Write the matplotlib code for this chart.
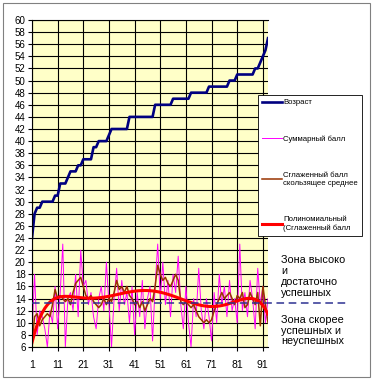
"""
Возраст и баллы: линейный график в стиле Excel.
"""

import numpy as np
import matplotlib.pyplot as plt
from matplotlib.patches import Rectangle

plt.rcParams['font.family'] = ['Liberation Sans', 'DejaVu Sans']

# Data
age = [24, 28, 29, 29, 30, 30, 30, 30, 30, 31, 31, 33, 33, 33, 34, 35, 35, 35,
       36, 36, 37, 37, 37, 37, 39, 39, 40, 40, 40, 40, 41, 42, 42, 42, 42, 42,
       42, 42, 44, 44, 44, 44, 44, 44, 44, 44, 44, 44, 46, 46, 46, 46, 46, 46,
       46, 47, 47, 47, 47, 47, 47, 47, 48, 48, 48, 48, 48, 48, 48, 49, 49, 49,
       49, 49, 49, 49, 49, 50, 50, 50, 51, 51, 51, 51, 51, 51, 51, 52, 52, 53,
       54, 55, 57]

total_score = [8, 18, 8, 12, 11, 9, 6, 12, 10, 16, 9, 15, 23, 6, 14, 15, 12, 18,
               11, 22, 16, 17, 13, 15, 11, 9, 14, 16, 12, 20, 13, 6, 14, 19, 12,
               17, 13, 15, 10, 16, 8, 15, 11, 17, 9, 14, 16, 7, 16, 23, 14, 20,
               13, 17, 11, 18, 15, 21, 13, 9, 16, 10, 6, 14, 11, 19, 12, 9, 14,
               11, 7, 15, 10, 18, 13, 16, 11, 17, 12, 14, 10, 23, 12, 15, 11, 17,
               14, 9, 19, 13, 16, 10, 14]

smoothed_score = [6.5, 11, 11.5, 9.5, 10.5, 11, 11.5, 11, 13, 15.5, 14, 14.5, 14,
                  13.5, 14, 13, 15, 16.5, 17, 17.5, 16, 14.5, 14, 14.5, 13.5, 13,
                  12.5, 13, 14, 13, 14, 13.5, 15, 17, 15.5, 16, 15, 16, 14.5, 14,
                  13, 13.5, 12.5, 13.5, 12, 13, 14, 13.5, 16, 19.5, 18, 17, 17.5,
                  16.5, 16, 17, 18, 17, 13.5, 13, 13.5, 13, 12.5, 13, 12, 11, 10.5,
                  10, 10.5, 10, 10.5, 12, 13, 14, 15, 14, 14.5, 15, 14, 13, 14.5,
                  14, 15, 12.5, 13, 15, 14, 13, 15, 9.5, 16, 13, 10]

threshold = 13.2

labels = ["Возраст", "Суммарный балл", "Сглаженный балл\nскользящее среднее",
          "Полиномиальный\n(Сглаженный балл"]

x = np.arange(1, len(age) + 1)

# Excel-style polynomial trendline of the smoothed series
trend = np.polynomial.Polynomial.fit(x, smoothed_score, 6)(x)

W, H = 373, 384
fig = plt.figure(figsize=(W / 100, H / 100), dpi=100)
fig.patches.append(Rectangle((3 / W, 7 / H), 367 / W, 374 / H,
                             transform=fig.transFigure, fill=False,
                             edgecolor="#808080", lw=0.8))

ax = fig.add_axes([32 / W, 37 / H, 236 / W, 327 / H])
ax.set_facecolor("#FFFFC8")

ax.plot(x, age, color="#000080", lw=1.9, label=labels[0])
ax.plot(x, total_score, color="#FF00FF", lw=0.7, label=labels[1])
ax.plot(x, smoothed_score, color="#993300", lw=1.1, label=labels[2])
ax.plot(x, trend, color="#FF0000", lw=2.2, label=labels[3])

# threshold line, runs past the plot into the notes area
ax.plot([1, 124], [threshold, threshold], color="#2E3192", lw=1.1,
        ls=(0, (5, 3)), clip_on=False, zorder=5)

ax.set_xlim(1, 93)
ax.set_ylim(6, 60)
ax.set_xticks(range(1, 92, 10))
ax.set_yticks(range(6, 61, 2))
ax.grid(color="black", lw=0.8)
ax.set_axisbelow(True)
ax.spines["right"].set_visible(False)
for s in ["left", "bottom", "top"]:
    ax.spines[s].set_color("black")
    ax.spines[s].set_linewidth(0.8)
ax.tick_params(axis="y", labelsize=7, length=3, pad=1.5, width=0.8)
ax.tick_params(axis="x", labelsize=7.5, length=3, pad=6, width=0.8)

leg = ax.legend(loc="upper left", bbox_to_anchor=(258 / W, 1 - 95 / H),
                bbox_transform=fig.transFigure, fontsize=5.6, frameon=True,
                fancybox=False, edgecolor="black", framealpha=1,
                handlelength=2.6, handletextpad=0.1, labelspacing=3.75,
                borderpad=0.5, borderaxespad=0)
leg.get_frame().set_linewidth(0.6)

fig.text(281 / W, 1 - 276.5 / H, "Зона высоко\nи\nдостаточно\nуспешных",
         fontsize=7.8, va="center", ha="left", linespacing=1.1)
fig.text(281 / W, 1 - 330.5 / H, "Зона скорее\nуспешных и\nнеуспешных",
         fontsize=7.8, va="center", ha="left", linespacing=1.1)

plt.savefig("out.png", dpi=100)
plt.close()
